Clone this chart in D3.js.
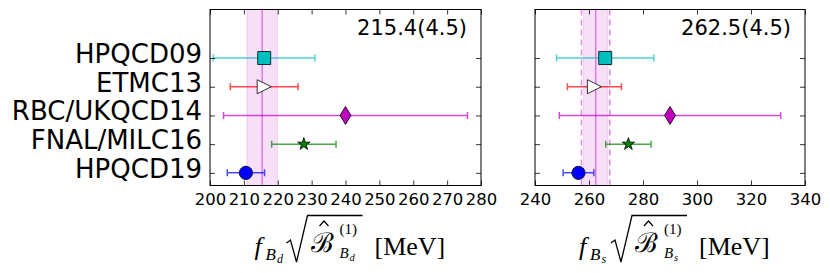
<!DOCTYPE html>
<html>
<head>
<meta charset="utf-8">
<script src="https://cdnjs.cloudflare.com/ajax/libs/d3/7.8.5/d3.min.js"></script>
<style>
  body { margin: 0; background: #fff; }
  svg { display: block; font-family: "DejaVu Sans", sans-serif; }
</style>
</head>
<body>
<svg id="chart" width="830" height="273"></svg>
<script>
'use strict';

// collaborations, top to bottom
var collabs = ['HPQCD09', 'ETMC13', 'RBC/UKQCD14', 'FNAL/MILC16', 'HPQCD19']
var markers = ['square', 'triangle', 'diamond', 'star', 'circle']
var colors = ['#00bfbf', '#ff0000', '#bf00bf', '#008000', '#0000ff']
var fills = ['#00bfbf', '#ffffff', '#bf00bf', '#008000', '#0000ff']

// f_Bd sqrt(B_Bd)
var bdVals = [216, 216, 240, 227.7, 210.6]
var bdErrs = [15, 10, 36, 9.5, 5.5]
// f_Bs sqrt(B_Bs)
var bsVals = [266, 262, 290, 274.6, 256.1]
var bsErrs = [18, 10, 41, 8.4, 5.7]

var averages = [215.4, 262.5]
var averageErrs = [4.5, 4.5]
var bsOuterBand = [257.2, 267.7]

var bdTicks = [200, 210, 220, 230, 240, 250, 260, 270, 280]
var bsTicks = [240, 260, 280, 300, 320, 340]

var svg = d3.select('#chart')
var plotTop = 9.5, plotBottom = 185.5

var y = d3.scaleLinear().domain([-0.44, 5.69]).range([plotBottom, plotTop])
function rowY(i) { return y(collabs.length - 1 - i) }

function markerPath(kind) {
    if (kind === 'square') return 'M-6.5,-6.5H6.5V6.5H-6.5Z'
    if (kind === 'triangle') return 'M7,0L-7,-7L-7,7Z'
    if (kind === 'diamond') return 'M0,-9L5.5,0L0,9L-5.5,0Z'
    if (kind === 'star') return d3.symbol().type(d3.symbolStar).size(48)()
    return d3.symbol().type(d3.symbolCircle).size(138)()
}

function drawPanel(opts) {
    var x = d3.scaleLinear().domain(opts.domain).range(opts.range)
    var g = svg.append('g')

    // average band
    g.append('rect')
        .attr('x', x(opts.avg - opts.err))
        .attr('y', plotTop)
        .attr('width', x(opts.avg + opts.err) - x(opts.avg - opts.err))
        .attr('height', plotBottom - plotTop)
        .attr('fill', '#bf00bf')
        .attr('fill-opacity', 0.12)
        .attr('stroke', '#bf00bf')
        .attr('stroke-opacity', 0.15)
    if (opts.outer) {
        opts.outer.forEach(function(v) {
            g.append('line')
                .attr('x1', x(v)).attr('x2', x(v))
                .attr('y1', plotTop).attr('y2', plotBottom)
                .attr('stroke', '#e08ae0')
                .attr('stroke-width', 1.5)
                .attr('stroke-dasharray', '6,4')
        })
    }
    g.append('line')
        .attr('x1', x(opts.avg)).attr('x2', x(opts.avg))
        .attr('y1', plotTop).attr('y2', plotBottom)
        .attr('stroke', '#d56ee0')
        .attr('stroke-width', 1.3)

    // error bars
    var rows = g.selectAll('g.row')
        .data(opts.vals.map(function(v, i) { return {v: v, e: opts.errs[i], i: i} }))
        .enter().append('g')
        .attr('class', 'row')
        .attr('transform', function(d) { return 'translate(0,' + rowY(d.i) + ')' })

    rows.append('path')
        .attr('d', function(d) {
            var a = x(d.v - d.e), b = x(d.v + d.e)
            return 'M' + a + ',0H' + b + 'M' + a + ',-3.5V3.5M' + b + ',-3.5V3.5'
        })
        .attr('fill', 'none')
        .attr('stroke', function(d) { return colors[d.i] })
        .attr('stroke-opacity', 0.7)
        .attr('stroke-width', 1.5)

    rows.append('path')
        .attr('transform', function(d) { return 'translate(' + x(d.v) + ',0)' })
        .attr('d', function(d) { return markerPath(markers[d.i]) })
        .attr('fill', function(d) { return fills[d.i] })
        .attr('stroke', '#000')
        .attr('stroke-width', 0.8)

    // axes, ticks pointing inward
    var xAxis = g.append('g')
        .attr('transform', 'translate(0,' + plotBottom + ')')
        .call(d3.axisBottom(x).tickValues(opts.ticks).tickSize(-5).tickPadding(7.8))
    xAxis.selectAll('text').attr('font-size', 16.5).attr('fill', '#000')
        .attr('font-family', '"DejaVu Sans", sans-serif')
    g.append('g')
        .attr('transform', 'translate(0,' + plotTop + ')')
        .call(d3.axisTop(x).tickValues(opts.ticks).tickSize(-5).tickFormat(''))

    var rowIdx = d3.range(collabs.length)
    g.append('g')
        .attr('transform', 'translate(' + opts.range[0] + ',0)')
        .call(d3.axisLeft(y).tickValues(rowIdx).tickSize(-5).tickFormat(''))
    g.append('g')
        .attr('transform', 'translate(' + opts.range[1] + ',0)')
        .call(d3.axisRight(y).tickValues(rowIdx).tickSize(-5).tickFormat(''))

    g.selectAll('.domain').remove()
    g.selectAll('.tick line').attr('stroke', '#000').attr('stroke-width', 0.8)

    g.append('rect')
        .attr('x', opts.range[0]).attr('y', plotTop)
        .attr('width', opts.range[1] - opts.range[0])
        .attr('height', plotBottom - plotTop)
        .attr('fill', 'none')
        .attr('stroke', '#000')
        .attr('stroke-width', 1)

    g.append('text')
        .attr('x', opts.range[1] - 14)
        .attr('y', 35)
        .attr('text-anchor', 'end')
        .attr('font-size', 21)
        .text(opts.avg.toFixed(1) + '(' + opts.err.toFixed(1) + ')')

    drawAxisLabel(g, (opts.range[0] + opts.range[1]) / 2 + 3, opts.sub)
}

function drawAxisLabel(g, cx, sub) {
    var x0 = cx - 94
    var lab = g.append('g')
        .attr('font-family', '"Liberation Serif", "DejaVu Serif", serif')
        .attr('fill', '#000')
    function t(x, yy, size, str, italic) {
        lab.append('text')
            .attr('x', x0 + x).attr('y', yy)
            .attr('font-size', size)
            .attr('font-style', italic ? 'italic' : 'normal')
            .text(str)
    }
    t(0, 255, 26, 'f', true)
    t(11, 260, 17, 'B', true)
    t(22.5, 263, 12, sub, true)
    // radical sign and its bar
    lab.append('path')
        .attr('d', 'M' + (x0 + 32) + ',243L' + (x0 + 36) + ',240L' + (x0 + 42) + ',262L' +
            (x0 + 53) + ',215.5L' + (x0 + 108) + ',215.5')
        .attr('fill', 'none')
        .attr('stroke', '#000')
        .attr('stroke-width', 1.3)
    t(56, 252, 27, '\u212C', false)
    // hat accent
    lab.append('path')
        .attr('d', 'M' + (x0 + 65) + ',226L' + (x0 + 69.5) + ',221L' + (x0 + 74) + ',226')
        .attr('fill', 'none')
        .attr('stroke', '#000')
        .attr('stroke-width', 1.2)
    t(85, 234, 15, '(1)', false)
    t(85, 258, 15, 'B', true)
    t(95, 261, 10.5, sub, true)
    t(120, 255, 26, '[MeV]', false)
}

// row labels
svg.append('g').selectAll('text')
    .data(collabs)
    .enter().append('text')
    .attr('x', 202)
    .attr('y', function(d, i) { return rowY(i) + 5 })
    .attr('text-anchor', 'end')
    .attr('font-size', 26)
    .text(function(d) { return d })

drawPanel({domain: [200, 280], range: [210, 481], vals: bdVals, errs: bdErrs,
    avg: averages[0], err: averageErrs[0], ticks: bdTicks, sub: 'd'})
drawPanel({domain: [240, 340], range: [535, 805], vals: bsVals, errs: bsErrs,
    avg: averages[1], err: averageErrs[1], ticks: bsTicks, sub: 's', outer: bsOuterBand})
</script>
</body>
</html>
